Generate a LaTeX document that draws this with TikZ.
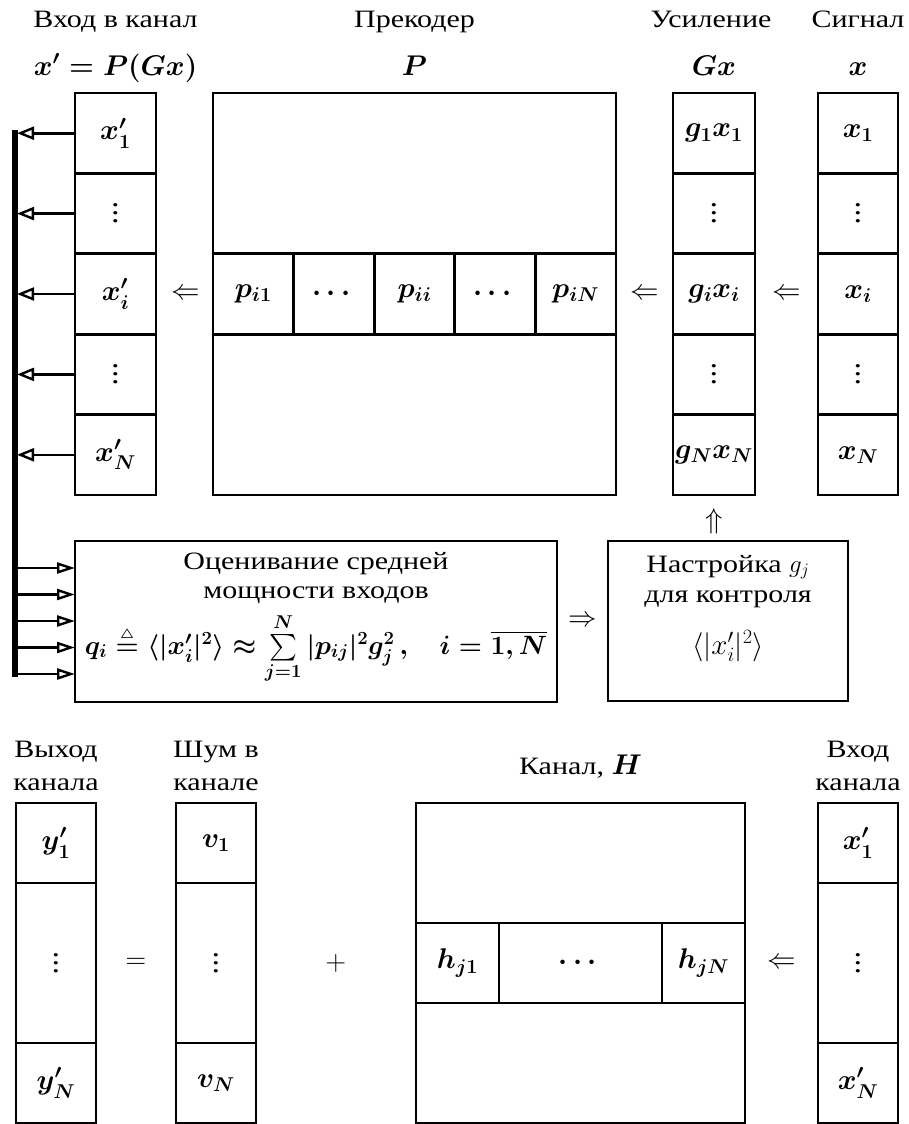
\RequirePackage{fix-cm}
\documentclass[tikz,border=0pt]{standalone}
\usepackage{amsmath,amssymb}
\usepackage{fontspec}
\setmainfont[FakeStretch=1.2]{Liberation Serif}
\usetikzlibrary{arrows.meta,calc}
\newcommand{\deq}{\mathrel{\stackrel{\scriptscriptstyle\triangle}{=}}}
\newcommand{\vd}{\vbox{\baselineskip=8pt\lineskiplimit=-10pt\hbox{.}\hbox{.}\hbox{.}}}
\begin{document}
\begin{tikzpicture}[x=1pt,y=-1pt,
  every node/.style={inner sep=0pt, outer sep=0pt},
  txt/.style={font=\fontsize{25}{30}\selectfont, anchor=base},
  mth/.style={font=\fontsize{28.5}{30}\selectfont\boldmath, anchor=base},
  box/.style={draw, line width=2.8pt},
  cell/.style={box, minimum width=81pt, minimum height=80.4pt, font=\fontsize{28.5}{30}\selectfont\boldmath},
  sym/.style={font=\fontsize{28.5}{30}\selectfont},
  barr/.style={-{Triangle[open, length=17pt, width=13pt, line width=2.4pt]}, line width=2.6pt},
  earr/.style={-{Triangle[open, length=18pt, width=11pt, line width=2.4pt]}, line width=2.6pt}]
\useasboundingbox (0,0) rectangle (909,1124);

% headers top
\node[txt] (h1a) at (115.5,28) {Вход в канал};
\node[mth] (h1b) at (115.5,75) {$x' = P(Gx)$};
\node[txt] (h2a) at (414.5,28) {Прекодер};
\node[mth] (h2b) at (414.5,75) {$P$};
\node[txt] (h3a) at (711,28) {Усиление};
\node[mth] (h3b) at (714,75) {$Gx$};
\node[txt] (h4a) at (858,28) {Сигнал};
\node[mth] (h4b) at (858,75) {$x$};

% x' column
\node[cell] (xa1) at (115.5,133.2) {$x'_1$};
\node[cell] (xa2) at (115.5,213.6) {\vd};
\node[cell] (xa3) at (115.5,294.0) {$x'_i$};
\node[cell] (xa4) at (115.5,374.4) {\vd};
\node[cell] (xa5) at (115.5,454.8) {$x'_N$};

% precoder
\node[box, minimum width=403pt, minimum height=402pt] (P) at (414.5,294) {};
\node[cell, minimum width=80.6pt] (p1) at (253.3,294) {$p_{i1}$};
\node[cell, minimum width=80.6pt] (p2) at (333.9,294) {$\cdots$};
\node[cell, minimum width=80.6pt] (p3) at (414.5,294) {$p_{ii}$};
\node[cell, minimum width=80.6pt] (p4) at (495.1,294) {$\cdots$};
\node[cell, minimum width=80.6pt] (p5) at (575.7,294) {$p_{iN}$};

% Gx column
\node[cell, minimum width=82pt] (g1) at (714,133.2) {$g_1x_1$};
\node[cell, minimum width=82pt] (g2) at (714,213.6) {\vd};
\node[cell, minimum width=82pt] (g3) at (714,294.0) {$g_ix_i$};
\node[cell, minimum width=82pt] (g4) at (714,374.4) {\vd};
\node[cell, minimum width=82pt] (g5) at (714,454.8) {$g_Nx_N$};

% x column
\node[cell, minimum width=80pt] (s1) at (858,133.2) {$x_1$};
\node[cell, minimum width=80pt] (s2) at (858,213.6) {\vd};
\node[cell, minimum width=80pt] (s3) at (858,294.0) {$x_i$};
\node[cell, minimum width=80pt] (s4) at (858,374.4) {\vd};
\node[cell, minimum width=80pt] (s5) at (858,454.8) {$x_N$};

% arrow symbols
\node[sym] (la1) at (186,294) {$\Leftarrow$};
\node[sym] (la2) at (645,294) {$\Leftarrow$};
\node[sym] (la3) at (787,294) {$\Leftarrow$};
\node[sym] (ua) at (714,521) {$\Uparrow$};
\node[sym] (ra) at (582.5,621) {$\Rightarrow$};

% estimation box
\node[box, minimum width=482pt, minimum height=161pt] (E) at (316,621.5) {};
\node[txt] (Et1) at (316,569) {Оценивание средней};
\node[txt] (Et2) at (316,598) {мощности входов};
\node[font=\fontsize{26.5}{30}\selectfont\boldmath, anchor=base] (Et3) at (316,654)
  {$q_i \deq \langle|x'_i|^2\rangle \approx \sum\limits_{j=1}^{N}|p_{ij}|^2g_j^2\,,\quad i=\overline{1,N}$};

% adjustment box
\node[box, minimum width=240pt, minimum height=160pt] (S) at (728,621) {};
\node[txt] (St1) at (728,572) {Настройка $g_j$};
\node[txt] (St2) at (728,602) {для контроля};
\node[font=\fontsize{29}{30}\selectfont, anchor=base] (St3) at (728,654) {$\langle|x'_i|^2\rangle$};

% bus
\coordinate (bt) at (15,130);
\coordinate (bb) at (15,677);
\coordinate (br) at (17,0);
\draw[line width=6pt] (bt) -- (bb);
\foreach \k in {1,...,5}{
  \draw[barr] (xa\k.west) -- (xa\k.west -| br);
}
\foreach \k/\yy in {1/568,2/594.5,3/621,4/647.5,5/674}{
  \coordinate (e\k) at (0,\yy);
  \draw[earr] (bt |- e\k) -- (E.west |- e\k);
}

% bottom headers
\node[txt] (b1a) at (56,757) {Выход};
\node[txt] (b1b) at (56,790) {канала};
\node[txt] (b2a) at (216,757) {Шум в};
\node[txt] (b2b) at (216,790) {канале};
\node[txt] (b3) at (580.5,774) {Канал, {\fontsize{28.5}{30}\selectfont\boldmath$H$}};
\node[txt] (b4a) at (858,757) {Вход};
\node[txt] (b4b) at (858,790) {канала};

% y column
\node[cell, minimum width=80pt, minimum height=80pt] (y1) at (56,843) {$y'_1$};
\node[cell, minimum width=80pt, minimum height=160pt] (y2) at (56,963) {\vd};
\node[cell, minimum width=80pt, minimum height=80pt] (y3) at (56,1083) {$y'_N$};

% v column
\node[cell, minimum width=80pt, minimum height=80pt] (v1) at (216,843) {$v_1$};
\node[cell, minimum width=80pt, minimum height=160pt] (v2) at (216,963) {\vd};
\node[cell, minimum width=80pt, minimum height=80pt] (v3) at (216,1083) {$v_N$};

% H box
\node[box, minimum width=329pt, minimum height=320pt] (H) at (580.5,963) {};
\node[cell, minimum width=83pt, minimum height=80pt] (hh1) at (457.5,963) {$h_{j1}$};
\node[cell, minimum width=163pt, minimum height=80pt] (hh2) at (580.5,963) {$\cdots$};
\node[cell, minimum width=83pt, minimum height=80pt] (hh3) at (703.5,963) {$h_{jN}$};

% x' bottom column
\node[cell, minimum width=80pt, minimum height=80pt] (z1) at (858,843) {$x'_1$};
\node[cell, minimum width=80pt, minimum height=160pt] (z2) at (858,963) {\vd};
\node[cell, minimum width=80pt, minimum height=80pt] (z3) at (858,1083) {$x'_N$};

\node[sym] (eq) at (136,963) {$=$};
\node[sym] (pl) at (336,963) {$+$};
\node[sym] (la4) at (782,963) {$\Leftarrow$};
\end{tikzpicture}
\end{document}
